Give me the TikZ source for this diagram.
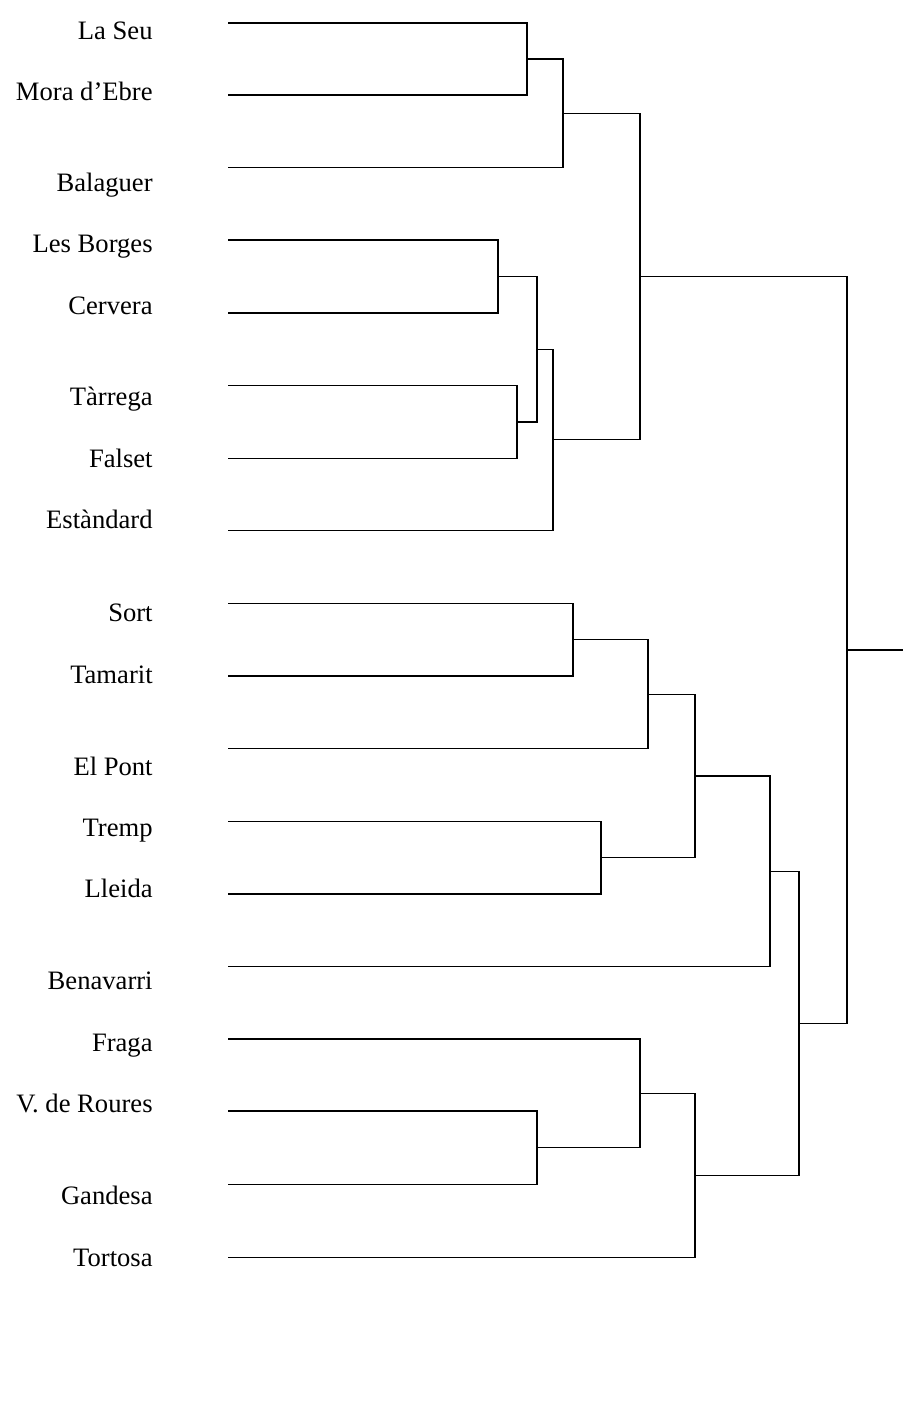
\documentclass[tikz,border=0pt]{standalone}
\usepackage{fontspec}
\setmainfont{Liberation Serif}
\begin{document}
\begin{tikzpicture}[x=0.5pt,y=-0.5pt,
	town/.style={anchor=base east,inner sep=0pt,font=\fontsize{13.3}{16}\selectfont},
	branch/.style={line width=0.6pt,black}]

\def\XLABEL{153}
\def\XLEAF{228}
	\useasboundingbox (0,0) rectangle (903,1416);
	% town names
	\node[town] (tseu) at (\XLABEL,40) {La Seu};
	\node[town] (tmora) at (\XLABEL,101) {Mora d’Ebre};
	\node[town] (tbala) at (\XLABEL,192) {Balaguer};
	\node[town] (tborg) at (\XLABEL,253) {Les Borges};
	\node[town] (tcerv) at (\XLABEL,315) {Cervera};
	\node[town] (ttarr) at (\XLABEL,406) {Tàrrega};
	\node[town] (tfals) at (\XLABEL,468) {Falset};
	\node[town] (testa) at (\XLABEL,528) {Estàndard};
	\node[town] (tsort) at (\XLABEL,621) {Sort};
	\node[town] (ttama) at (\XLABEL,683) {Tamarit};
	\node[town] (tpont) at (\XLABEL,775) {El Pont};
	\node[town] (ttrem) at (\XLABEL,836) {Tremp};
	\node[town] (tllei) at (\XLABEL,897) {Lleida};
	\node[town] (tbena) at (\XLABEL,989) {Benavarri};
	\node[town] (tfrag) at (\XLABEL,1051) {Fraga};
	\node[town] (troug) at (\XLABEL,1112) {V. de Roures};
	\node[town] (tgand) at (\XLABEL,1204) {Gandesa};
	\node[town] (ttort) at (\XLABEL,1266) {Tortosa};
	% leaves
	\coordinate (seu) at (\XLEAF,23);
	\coordinate (mora) at (\XLEAF,95);
	\coordinate (bala) at (\XLEAF,167.5);
	\coordinate (borg) at (\XLEAF,240);
	\coordinate (cerv) at (\XLEAF,313);
	\coordinate (tarr) at (\XLEAF,385.5);
	\coordinate (fals) at (\XLEAF,458.5);
	\coordinate (esta) at (\XLEAF,530.5);
	\coordinate (sort) at (\XLEAF,603.5);
	\coordinate (tama) at (\XLEAF,676);
	\coordinate (pont) at (\XLEAF,748.5);
	\coordinate (trem) at (\XLEAF,821.5);
	\coordinate (llei) at (\XLEAF,894);
	\coordinate (bena) at (\XLEAF,966.5);
	\coordinate (frag) at (\XLEAF,1039);
	\coordinate (roug) at (\XLEAF,1111);
	\coordinate (gand) at (\XLEAF,1184.5);
	\coordinate (tort) at (\XLEAF,1257.5);
	% joints
	\coordinate (j1) at (527,59);
	\coordinate (j2) at (563,113.25);
	\coordinate (j3) at (498,276.5);
	\coordinate (j4) at (517,422);
	\coordinate (j5) at (537,349.25);
	\coordinate (j6) at (553,439.9);
	\coordinate (j7) at (640,276.6);
	\coordinate (j8) at (573,639.75);
	\coordinate (j9) at (648,694.1);
	\coordinate (j10) at (601,857.75);
	\coordinate (j11) at (695,775.9);
	\coordinate (j12) at (770,871.2);
	\coordinate (j13) at (537,1147.75);
	\coordinate (j14) at (640,1093.4);
	\coordinate (j15) at (695,1175.45);
	\coordinate (j16) at (799,1023.3);
	\coordinate (j17) at (847,649.95);
	\coordinate (top) at (903,649.95);
	% branches
	\draw[branch] (seu) -| (j1);
	\draw[branch] (mora) -| (j1);
	\draw[branch] (j1) -| (j2);
	\draw[branch] (bala) -| (j2);
	\draw[branch] (borg) -| (j3);
	\draw[branch] (cerv) -| (j3);
	\draw[branch] (tarr) -| (j4);
	\draw[branch] (fals) -| (j4);
	\draw[branch] (j3) -| (j5);
	\draw[branch] (j4) -| (j5);
	\draw[branch] (j5) -| (j6);
	\draw[branch] (esta) -| (j6);
	\draw[branch] (j2) -| (j7);
	\draw[branch] (j6) -| (j7);
	\draw[branch] (sort) -| (j8);
	\draw[branch] (tama) -| (j8);
	\draw[branch] (j8) -| (j9);
	\draw[branch] (pont) -| (j9);
	\draw[branch] (trem) -| (j10);
	\draw[branch] (llei) -| (j10);
	\draw[branch] (j9) -| (j11);
	\draw[branch] (j10) -| (j11);
	\draw[branch] (j11) -| (j12);
	\draw[branch] (bena) -| (j12);
	\draw[branch] (roug) -| (j13);
	\draw[branch] (gand) -| (j13);
	\draw[branch] (frag) -| (j14);
	\draw[branch] (j13) -| (j14);
	\draw[branch] (j14) -| (j15);
	\draw[branch] (tort) -| (j15);
	\draw[branch] (j12) -| (j16);
	\draw[branch] (j15) -| (j16);
	\draw[branch] (j7) -| (j17);
	\draw[branch] (j16) -| (j17);
	\draw[branch] (j17) -- (top);

\end{tikzpicture}
\end{document}
